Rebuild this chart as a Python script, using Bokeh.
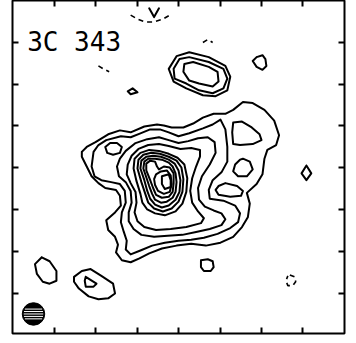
from bokeh.plotting import figure
from bokeh.models import Range1d, LinearAxis, FixedTicker, Label
from bokeh.embed import file_html
from bokeh.resources import INLINE

# ---------------- data (map coordinates, y grows downward) ----------------
title_text = "3C 343"
x_ticks = [55, 97, 140, 182, 225, 267, 309]
y_ticks = [43, 86, 128, 171, 214, 257, 300]

level1 = [(83,155),(88,150),(97,145),(110,137),(122,133),(133,135),(147,129),(160,127),(167,128),(175,130),(187,130),(197,126),(207,120),(218,116),(230,116),(238,112),(248,104),(258,105),(270,112),(280,123),(285,138),(282,148),(273,153),(270,162),(268,178),(262,188),(252,197),(255,208),(253,222),(247,232),(238,242),(225,248),(210,251),(195,249),(180,251),(165,254),(152,259),(142,264),(133,268),(124,266),(118,258),(120,250),(117,242),(110,235),(108,225),(117,217),(123,210),(122,200),(118,194),(107,192),(100,187),(93,180),(88,170),(83,160),(83,155)]
level2 = [(100,148),(108,143),(123,139),(133,140),(143,136),(153,132),(163,132),(172,135),(182,139),(193,136),(207,131),(217,127),(225,122),(230,132),(232,150),(232,165),(226,176),(217,184),(213,194),(214,203),(228,205),(240,210),(245,218),(243,227),(235,233),(222,239),(208,243),(195,245),(182,246),(168,248),(155,251),(143,256),(133,260),(128,255),(129,246),(126,237),(123,227),(124,217),(128,207),(127,195),(122,188),(113,186),(103,184),(96,180),(93,170),(95,155),(100,148)]
level3 = [(122,162),(128,154),(138,146),(150,142),(162,140),(172,143),(182,146),(192,144),(202,141),(212,140),(219,145),(220,156),(214,168),(206,180),(202,192),(203,204),(209,211),(218,215),(226,218),(230,224),(226,230),(214,234),(200,237),(186,240),(171,241),(157,242),(144,240),(136,234),(131,226),(131,217),(134,207),(133,195),(128,186),(121,180),(119,170),(122,162)]
level4 = [(130,168),(134,159),(141,152),(151,148),(162,147),(172,149),(184,152),(195,151),(204,153),(204,160),(200,170),(196,182),(194,195),(196,207),(202,216),(208,223),(205,228),(190,232),(174,234),(159,235),(147,232),(140,226),(137,217),(139,207),(138,196),(133,187),(129,178),(130,168)]
level5 = [(136,172),(137,162),(143,156),(152,153),(162,154),(172,157),(181,161),(188,168),(191,182),(190,196),(186,208),(179,216),(168,220),(158,218),(150,214),(145,207),(143,198),(139,185),(136,172)]
level6 = [(140,172),(141,163),(146,158),(154,156),(163,157),(172,160),(180,164),(185,171),(187,183),(186,196),(182,206),(175,213),(166,216),(157,213),(151,207),(148,198),(144,186),(140,172)]
level7 = [(143,172),(144,164),(149,160),(156,159),(164,160),(172,163),(178,167),(182,174),(184,184),(183,196),(179,204),(172,210),(165,212),(158,209),(153,203),(150,195),(147,184),(143,172)]
level8 = [(146,172),(147,165),(151,162),(158,162),(165,163),(172,166),(176,170),(179,177),(180,186),(179,196),(176,202),(170,206),(164,207),(158,204),(155,198),(152,190),(149,181),(146,172)]
level9 = [(149,174),(149,167),(153,164),(158,165),(160,170),(162,173),(167,170),(173,171),(177,177),(177,187),(176,196),(172,201),(165,202),(159,199),(156,192),(153,184),(149,174)]
level10 = [(157,183),(159,178),(164,175),(170,174),(174,179),(175,188),(173,196),(167,198),(161,195),(158,189),(157,183)]
peak = [(165,180),(172,178),(174,184),(174,191),(168,193),(165,188),(165,180)]

west_hole = [(107,150),(112,146),(119,146),(124,150),(122,156),(115,158),(109,156),(107,150)]
east_triangle = [(238,125),(247,124),(257,130),(265,137),(267,143),(258,147),(245,148),(238,147),(237,135),(238,125)]
east_oval = [(248,162),(255,165),(258,173),(252,180),(243,180),(238,175),(240,168),(245,163),(248,162)]
southeast_loop = [(223,190),(230,187),(242,190),(248,195),(246,200),(235,201),(223,199),(220,194),(223,190)]

north_outer = [(172,70),(180,57),(193,53),(213,58),(230,67),(235,78),(232,92),(220,98),(207,97),(190,90),(177,83),(172,70)]
north_mid = [(177,70),(183,60),(193,58),(213,63),(228,70),(232,80),(228,90),(217,95),(203,92),(190,85),(178,80),(177,70)]
north_inner = [(187,73),(188,65),(197,63),(213,68),(222,73),(223,83),(217,88),(203,85),(193,82),(187,73)]
ne_spot = [(262,58),(268,56),(271,60),(272,67),(268,71),(262,68),(258,62),(262,58)]
nw_spot = [(130,93),(135,90),(140,94),(133,96),(130,93)]
east_diamond = [(313,169),(318,177),(313,184),(308,177),(313,169)]
south_spot = [(205,266),(212,265),(217,267),(218,273),(215,277),(208,277),(205,273),(205,266)]
sw_oval = [(42,263),(50,267),(57,277),(57,287),(50,290),(43,288),(37,280),(35,270),(42,263)]
sw_blob = [(75,283),(83,277),(92,275),(103,282),(115,290),(117,300),(110,305),(100,306),(90,303),(80,295),(75,288),(75,283)]
sw_blob_core = [(87,283),(98,290),(95,293),(87,293),(86,287),(87,283)]
top_v = [(152,8),(157,17),(162,8)]

neg_top = [(133,15),(140,19),(148,22),(157,22),(166,19),(173,15)]
neg_nw = [(100,67),(105,70),(111,73)]
neg_north = [(207,43),(212,40),(217,43)]
neg_se = [(296,281),(301,283),(302,288),(299,292),(294,292),(292,287),(294,282)]

beam_center = (33.5, 321.0)
beam_diameter = 23.0
beam_stripe_offsets = [-5.0, -2.5, 0.0, 2.5, 5.0]

# ---------------- figure ----------------
p = figure(width=348, height=335, x_range=Range1d(12, 352), y_range=Range1d(341, 0),
           output_backend="svg", toolbar_location=None,
           min_border_left=12, min_border_right=4, min_border_top=0, min_border_bottom=2)
p.grid.visible = False
p.outline_line_color = "black"
p.outline_line_width = 2
p.background_fill_color = "white"
p.border_fill_color = "white"

def style_axis(ax, ticks):
    ax.ticker = FixedTicker(ticks=ticks)
    ax.major_tick_in = 6
    ax.major_tick_out = 0
    ax.minor_tick_in = 0
    ax.minor_tick_out = 0
    ax.major_tick_line_width = 2
    ax.major_tick_line_color = "black"
    ax.axis_line_color = None
    ax.major_label_text_font_size = "0px"
    ax.major_label_standoff = 0
    ax.major_label_overrides = {t: "" for t in ticks}

style_axis(p.xaxis[0], x_ticks)
style_axis(p.yaxis[0], y_ticks)
top_axis = LinearAxis()
right_axis = LinearAxis()
style_axis(top_axis, x_ticks)
style_axis(right_axis, y_ticks)
p.add_layout(top_axis, "above")
p.add_layout(right_axis, "right")

def split(curves):
    xs = [[pt[0] for pt in c] for c in curves]
    ys = [[pt[1] for pt in c] for c in curves]
    return xs, ys

solid = [level1, level2, level3, level4, level5, level6, level7, level8, level9, level10, peak,
         west_hole, east_triangle, east_oval, southeast_loop,
         north_outer, north_mid, north_inner, ne_spot, nw_spot, east_diamond, south_spot,
         sw_oval, sw_blob, sw_blob_core, top_v]
xs, ys = split(solid)
p.multi_line(xs, ys, line_color="black", line_width=2, line_join="round", line_cap="round")

dashed = [neg_top, neg_nw, neg_north, neg_se]
xs, ys = split(dashed)
p.multi_line(xs, ys, line_color="black", line_width=1.6, line_dash="5 4")

# beam
p.ellipse(x=[beam_center[0]], y=[beam_center[1]], width=beam_diameter, height=beam_diameter,
          fill_color="black", line_color="black")
r = beam_diameter / 2
sx, sy = [], []
for off in beam_stripe_offsets:
    half = (r * r - off * off) ** 0.5 - 1.5
    sx.append([beam_center[0] - half, beam_center[0] + half])
    sy.append([beam_center[1] + off, beam_center[1] + off])
p.multi_line(sx, sy, line_color="white", line_width=1)

p.add_layout(Label(x=27, y=43, text=title_text, text_font="DejaVu Sans Mono",
                   text_font_size="26px", text_baseline="alphabetic", text_color="black"))

open("out.html", "w").write(file_html(p, INLINE))
